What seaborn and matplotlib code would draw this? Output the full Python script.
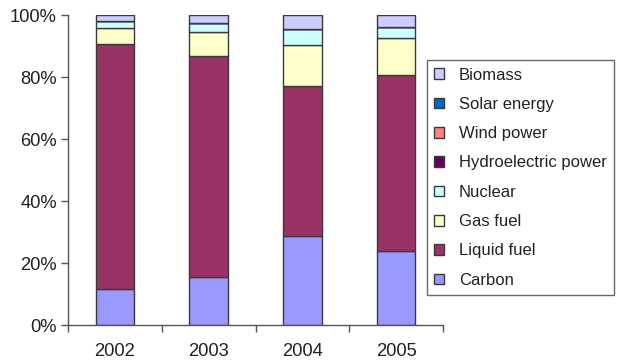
import matplotlib
matplotlib.use("Agg")
import matplotlib.pyplot as plt
import seaborn as sns
import numpy as np
import pandas as pd
from matplotlib.ticker import FixedLocator, PercentFormatter

years = ["2002", "2003", "2004", "2005"]

# Share of each source in total energy consumption (%), stacked bottom to top
carbon = [11.7, 15.6, 28.6, 23.9]
liquid_fuel = [78.9, 71.2, 48.4, 56.7]
gas_fuel = [5.2, 7.6, 13.4, 11.9]
nuclear = [2.4, 2.9, 5.1, 3.5]
hydroelectric = [0.0, 0.0, 0.0, 0.0]
wind_power = [0.0, 0.0, 0.0, 0.0]
solar_energy = [0.0, 0.0, 0.0, 0.0]
biomass = [1.8, 2.7, 4.5, 4.0]

series_names = ["Carbon", "Liquid fuel", "Gas fuel", "Nuclear",
                "Hydroelectric power", "Wind power", "Solar energy", "Biomass"]
series_values = [carbon, liquid_fuel, gas_fuel, nuclear,
                 hydroelectric, wind_power, solar_energy, biomass]
series_colors = ["#9999FF", "#993366", "#FFFFCC", "#CCFFFF",
                 "#660066", "#FF8080", "#0066CC", "#CCCCFF"]

sns.set_style("ticks")
plt.rcParams["font.family"] = ["Liberation Sans", "DejaVu Sans"]

fig = plt.figure(figsize=(6.21, 3.61), dpi=100)
ax = fig.add_axes([68 / 621, 36 / 361, 375 / 621, 310 / 361])

bottom = np.zeros(len(years))
for name, vals, col in zip(series_names, series_values, series_colors):
    df = pd.DataFrame({"year": years, "share": vals})
    sns.barplot(data=df, x="year", y="share", bottom=bottom, color=col,
                saturation=1, width=0.41, edgecolor="#3a3a3a", linewidth=1.0,
                label=name, ax=ax, errorbar=None)
    bottom = bottom + np.array(vals)

if ax.get_legend() is not None:
    ax.get_legend().remove()

ax.set_xlim(-0.5, 3.5)
ax.set_ylim(0, 100)
ax.set_xlabel("")
ax.set_ylabel("")

ax.yaxis.set_major_locator(FixedLocator([0, 20, 40, 60, 80, 100]))
ax.yaxis.set_major_formatter(PercentFormatter(decimals=0))
ax.xaxis.set_minor_locator(FixedLocator([-0.5, 0.5, 1.5, 2.5, 3.5]))
ax.tick_params(axis="x", which="major", length=0, pad=13)
ax.tick_params(axis="x", which="minor", length=5, width=1.0, color="#555555")
ax.tick_params(axis="y", length=5, width=1.0, color="#555555", pad=3)
ax.tick_params(labelsize=13.2, labelcolor="#222222")

for side in ["top", "right"]:
    ax.spines[side].set_visible(False)
for side in ["left", "bottom"]:
    ax.spines[side].set_color("#555555")
    ax.spines[side].set_linewidth(1.0)

handles, labels = ax.get_legend_handles_labels()
leg = fig.legend(handles[::-1], labels[::-1], loc="upper left",
                 bbox_to_anchor=(427 / 621, 1 - 60 / 361),
                 frameon=True, fancybox=False, shadow=False,
                 fontsize=12, handlelength=0.6, handleheight=0.6,
                 handletextpad=0.85, labelspacing=0.86, borderpad=0.45,
                 borderaxespad=0.0)
leg.get_frame().set_edgecolor("#444444")
leg.get_frame().set_linewidth(1.0)
for t in leg.get_texts():
    t.set_color("#222222")

fig.savefig("out.png", dpi=100, facecolor="white")
